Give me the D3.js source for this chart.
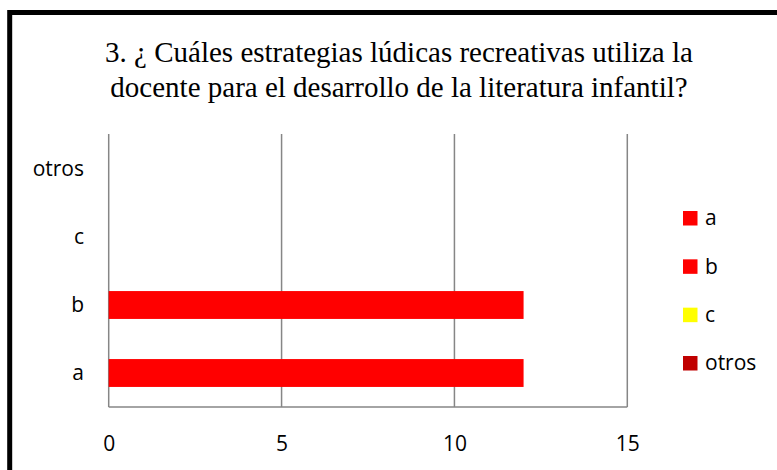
<!DOCTYPE html>
<html><head><meta charset="utf-8">
<script src="https://cdn.jsdelivr.net/npm/d3@7"></script>
<style>html,body{margin:0;padding:0;background:#fff;overflow:hidden}</style>
</head><body>
<svg id="chart" width="777" height="470"></svg>
<script>
const titleLines = ["3. ¿ Cuáles estrategias lúdicas recreativas utiliza la", "docente para el desarrollo de la literatura infantil?"];
const categories = ["a", "b", "c", "otros"];
const values = [12, 12, 0, 0];
const colors = ["#ff0000", "#ff0000", "#ffff00", "#c00000"];
const xTicks = [0, 5, 10, 15];

const svg = d3.select("#chart");
svg.append("rect").attr("x", 0).attr("y", 0).attr("width", 777).attr("height", 470).attr("fill", "#fff");
svg.append("rect").attr("x", 9.7).attr("y", 12.5).attr("width", 800).attr("height", 500)
  .attr("fill", "none").attr("stroke", "#000").attr("stroke-width", 5);

const title = svg.append("text").attr("font-family", "'Liberation Serif','Times New Roman',serif")
  .attr("font-size", 29).attr("fill", "#000").attr("text-anchor", "middle");
titleLines.forEach((t, i) => title.append("tspan").attr("x", 399).attr("y", 62 + i * 35).text(t));

const x = d3.scaleLinear().domain([0, 15]).range([108.7, 627.3]);
const y = d3.scaleBand().domain(categories.slice().reverse()).range([135, 407]).paddingInner(0.59).paddingOuter(0.295);

const grid = svg.append("g");
grid.selectAll("line").data(xTicks).join("line")
  .attr("x1", d => x(d)).attr("x2", d => x(d)).attr("y1", 134).attr("y2", 407)
  .attr("stroke", "#868686").attr("stroke-width", 1.5);
svg.append("line").attr("x1", x(0)).attr("x2", x(15)).attr("y1", 407).attr("y2", 407)
  .attr("stroke", "#868686").attr("stroke-width", 1.5);

svg.append("g").selectAll("rect").data(categories).join("rect")
  .attr("x", x(0)).attr("y", d => y(d)).attr("height", y.bandwidth())
  .attr("width", (d, i) => x(values[i]) - x(0)).attr("fill", (d, i) => colors[i]);

const font = "'Open Sans',sans-serif";
const xAxis = d3.axisBottom(x).tickValues(xTicks).tickSize(0).tickPadding(0);
const gx = svg.append("g").attr("transform", "translate(0,451)").call(xAxis);
gx.select(".domain").remove();
gx.selectAll("text").attr("font-family", font).attr("font-size", 21).attr("fill", "#000").attr("dy", null);

const yAxis = d3.axisLeft(y).tickSize(0).tickPadding(0);
const gy = svg.append("g").attr("transform", "translate(84,0)").call(yAxis);
gy.select(".domain").remove();
gy.selectAll("text").attr("font-family", font).attr("font-size", 21).attr("fill", "#000").attr("dy", "0.35em");

const leg = svg.append("g");
const legY = d3.scalePoint().domain(categories).range([218, 363]);
categories.forEach((c, i) => {
  leg.append("rect").attr("x", 683).attr("y", legY(c) - 7).attr("width", 14.5).attr("height", 14.5).attr("fill", colors[i]);
  leg.append("text").attr("x", 705).attr("y", legY(c)).attr("dy", "0.35em")
    .attr("font-family", font).attr("font-size", 21).attr("fill", "#000").text(c);
});
</script>
</body></html>
